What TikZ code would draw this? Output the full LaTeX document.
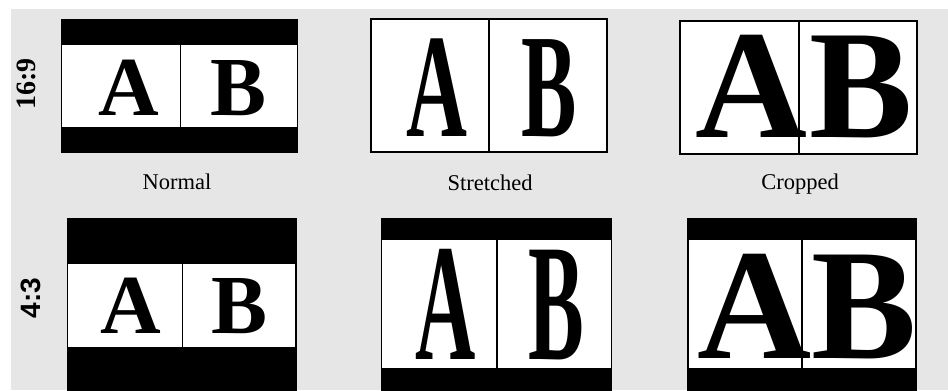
\documentclass[tikz,border=0pt]{standalone}
\usepackage{fontspec}
\setmainfont{Liberation Serif}
\newfontfamily\lsans{Liberation Sans}
\definecolor{bggray}{RGB}{230,230,230}
\tikzset{
  letter/.style={inner sep=0pt, outer sep=0pt, anchor=base, font=\bfseries},
  caption/.style={inner sep=0pt, anchor=base, font=\fontsize{22.5bp}{26bp}\selectfont},
  framebox/.style={fill=white, draw=black, line width=1.1bp},
  divider/.style={draw=black, line width=1.3bp},
}
\newcommand{\fsz}[1]{\fontsize{#1bp}{#1bp}\selectfont}
\begin{document}
\begin{tikzpicture}[x=1bp,y=-1bp]
\useasboundingbox (0,0) rectangle (948,390);
\fill[white] (0,0) rectangle (948,390);
\fill[bggray] (11,9) rectangle (948,390);
\begin{scope}
\clip (0,0) rectangle (948,390);
% row labels
\node[inner sep=0pt, rotate=90, font=\fsz{28}\bfseries] (r169) at (26,84) {16:9};
\node[inner sep=0pt, rotate=90, font=\lsans\fsz{28}\bfseries] (r43) at (31,298) {4:3};

% Panel 1: 16:9 normal
\fill[black] (61,19) rectangle (298,153);
\fill[white] (62,45) rectangle (297,127);
\node[letter, font=\fsz{84}\bfseries] (a1) at (129,115) {A};
\node[letter, font=\fsz{84}\bfseries] (b1) at (239,115) {B};
\coordinate (d1t) at (180,45); \coordinate (d1b) at (180,127);
\draw[divider, line width=1bp] (d1t) -- (d1b);

% Panel 2: 16:9 stretched
\draw[framebox] (371,19) rectangle (607,152);
\node[letter, font=\fsz{148}\bfseries] (a2) at (437,136) {\scalebox{0.57}[1]{A}};
\node[letter, font=\fsz{148}\bfseries] (b2) at (549,136) {\scalebox{0.56}[1]{B}};
\coordinate (d2t) at (489,19); \coordinate (d2b) at (489,152);
\draw[divider] (d2t) -- (d2b);

% Panel 3: 16:9 cropped
\draw[framebox] (680,21) rectangle (917,154);
\node[letter, font=\fsz{155}\bfseries] (a3) at (751,137) {A};
\node[letter, font=\fsz{155}\bfseries] (b3) at (861,137) {B};
\coordinate (d3t) at (799,21); \coordinate (d3b) at (799,154);
\draw[divider] (d3t) -- (d3b);

% captions
\node[caption] (c1) at (177,189) {Normal};
\node[caption] (c2) at (490,190) {Stretched};
\node[caption] (c3) at (800,189) {Cropped};

% Panel 4: 4:3 normal
\fill[black] (67,218) rectangle (297,395);
\fill[white] (68,264) rectangle (295,347);
\node[letter, font=\fsz{84}\bfseries] (a4) at (131,333) {A};
\node[letter, font=\fsz{84}\bfseries] (b4) at (240,333) {B};
\coordinate (d4t) at (182,264); \coordinate (d4b) at (182,347);
\draw[divider, line width=1bp] (d4t) -- (d4b);

% Panel 5: 4:3 stretched
\fill[black] (381,218) rectangle (612,395);
\fill[white] (382,240) rectangle (611,368);
\node[letter, font=\fsz{167}\bfseries] (a5) at (446,359) {\scalebox{0.5}[1]{A}};
\node[letter, font=\fsz{167}\bfseries] (b5) at (556,359) {\scalebox{0.5}[1]{B}};
\coordinate (d5t) at (497,240); \coordinate (d5b) at (497,368);
\draw[divider] (d5t) -- (d5b);

% Panel 6: 4:3 cropped
\fill[black] (687,218) rectangle (917,395);
\fill[white] (689,240) rectangle (915,368);
\node[letter, font=\fsz{158}\bfseries] (a6) at (755,358) {A};
\node[letter, font=\fsz{158}\bfseries] (b6) at (864,358) {B};
\coordinate (d6t) at (802,240); \coordinate (d6b) at (802,368);
\draw[divider] (d6t) -- (d6b);
\end{scope}
\end{tikzpicture}
\end{document}
